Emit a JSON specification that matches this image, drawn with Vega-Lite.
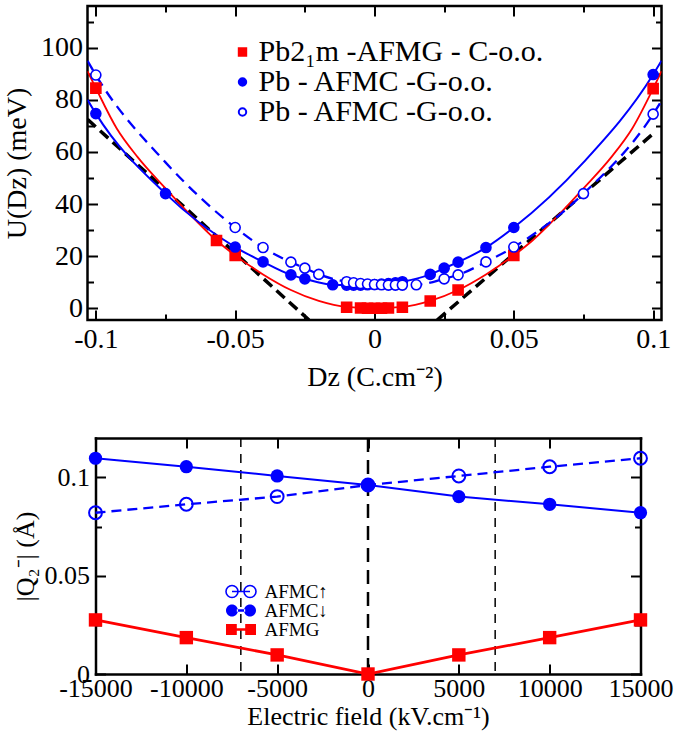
{
  "$schema": "https://vega.github.io/schema/vega-lite/v6.json",
  "padding": {"left": 1.5, "top": 3, "right": 0, "bottom": 2},
  "background": "white",
  "spacing": 43,
  "resolve": {
    "scale": {"shape": "independent", "fill": "independent", "stroke": "independent", "opacity": "independent"},
    "legend": {"shape": "independent", "fill": "independent", "stroke": "independent", "opacity": "independent"}
  },
  "datasets": {
    "topPts": [
      {"s": "AFMG", "D": -0.1, "U": 84.5}, {"s": "AFMG", "D": -0.0567, "U": 26}, {"s": "AFMG", "D": -0.05, "U": 20.3},
      {"s": "AFMG", "D": -0.01, "U": 0.4}, {"s": "AFMG", "D": -0.005, "U": 0.1}, {"s": "AFMG", "D": -0.0025, "U": 0},
      {"s": "AFMG", "D": 0, "U": 0}, {"s": "AFMG", "D": 0.0025, "U": 0}, {"s": "AFMG", "D": 0.005, "U": 0.1},
      {"s": "AFMG", "D": 0.01, "U": 0.4}, {"s": "AFMG", "D": 0.02, "U": 2.8}, {"s": "AFMG", "D": 0.03, "U": 7},
      {"s": "AFMG", "D": 0.05, "U": 20.3}, {"s": "AFMG", "D": 0.1, "U": 84.3},
      {"s": "AFMC-f", "D": -0.1, "U": 74.7}, {"s": "AFMC-f", "D": -0.075, "U": 44}, {"s": "AFMC-f", "D": -0.05, "U": 23.5},
      {"s": "AFMC-f", "D": -0.04, "U": 17.8}, {"s": "AFMC-f", "D": -0.03, "U": 12.8}, {"s": "AFMC-f", "D": -0.025, "U": 11.3},
      {"s": "AFMC-f", "D": -0.015, "U": 9.0}, {"s": "AFMC-f", "D": -0.01, "U": 8.9}, {"s": "AFMC-f", "D": -0.0075, "U": 8.9},
      {"s": "AFMC-f", "D": -0.005, "U": 8.9}, {"s": "AFMC-f", "D": -0.0025, "U": 9.0}, {"s": "AFMC-f", "D": 0, "U": 9.1},
      {"s": "AFMC-f", "D": 0.0025, "U": 9.3}, {"s": "AFMC-f", "D": 0.005, "U": 9.5}, {"s": "AFMC-f", "D": 0.0075, "U": 9.8},
      {"s": "AFMC-f", "D": 0.01, "U": 10.2}, {"s": "AFMC-f", "D": 0.02, "U": 13.0}, {"s": "AFMC-f", "D": 0.025, "U": 15.4},
      {"s": "AFMC-f", "D": 0.03, "U": 17.7}, {"s": "AFMC-f", "D": 0.04, "U": 23.3}, {"s": "AFMC-f", "D": 0.05, "U": 31},
      {"s": "AFMC-f", "D": 0.1, "U": 89.7},
      {"s": "AFMC-o", "D": -0.1, "U": 89.5}, {"s": "AFMC-o", "D": -0.05, "U": 31}, {"s": "AFMC-o", "D": -0.04, "U": 23.3},
      {"s": "AFMC-o", "D": -0.03, "U": 17.7}, {"s": "AFMC-o", "D": -0.025, "U": 15.4}, {"s": "AFMC-o", "D": -0.02, "U": 13.0},
      {"s": "AFMC-o", "D": -0.01, "U": 10.2}, {"s": "AFMC-o", "D": -0.0075, "U": 9.8}, {"s": "AFMC-o", "D": -0.005, "U": 9.5},
      {"s": "AFMC-o", "D": -0.0025, "U": 9.3}, {"s": "AFMC-o", "D": 0, "U": 9.1}, {"s": "AFMC-o", "D": 0.0025, "U": 9.0},
      {"s": "AFMC-o", "D": 0.005, "U": 8.9}, {"s": "AFMC-o", "D": 0.0075, "U": 8.9}, {"s": "AFMC-o", "D": 0.01, "U": 8.9},
      {"s": "AFMC-o", "D": 0.015, "U": 9.0}, {"s": "AFMC-o", "D": 0.025, "U": 11.3}, {"s": "AFMC-o", "D": 0.03, "U": 12.8},
      {"s": "AFMC-o", "D": 0.04, "U": 17.8}, {"s": "AFMC-o", "D": 0.05, "U": 23.5}, {"s": "AFMC-o", "D": 0.075, "U": 44},
      {"s": "AFMC-o", "D": 0.1, "U": 74.5}
    ],
    "topCurves": [
      {"c": "blackL", "D": -0.103, "U": 72.5}, {"c": "blackL", "D": -0.0235, "U": -4.5},
      {"c": "blackR", "D": 0.0225, "U": -4.5}, {"c": "blackR", "D": 0.1, "U": 67},
      {"c": "red", "D": -0.103, "U": 91}, {"c": "red", "D": -0.1, "U": 84.5}, {"c": "red", "D": -0.0925, "U": 69},
      {"c": "red", "D": -0.085, "U": 58}, {"c": "red", "D": -0.075, "U": 46}, {"c": "red", "D": -0.0667, "U": 36.5},
      {"c": "red", "D": -0.0567, "U": 26}, {"c": "red", "D": -0.05, "U": 20.3}, {"c": "red", "D": -0.04, "U": 13},
      {"c": "red", "D": -0.03, "U": 7}, {"c": "red", "D": -0.02, "U": 2.8}, {"c": "red", "D": -0.01, "U": 0.5},
      {"c": "red", "D": 0, "U": 0}, {"c": "red", "D": 0.01, "U": 0.5}, {"c": "red", "D": 0.02, "U": 2.8},
      {"c": "red", "D": 0.03, "U": 7}, {"c": "red", "D": 0.04, "U": 13}, {"c": "red", "D": 0.05, "U": 20.3},
      {"c": "red", "D": 0.0567, "U": 26}, {"c": "red", "D": 0.0667, "U": 36.5}, {"c": "red", "D": 0.075, "U": 46},
      {"c": "red", "D": 0.085, "U": 58}, {"c": "red", "D": 0.0925, "U": 69}, {"c": "red", "D": 0.1, "U": 84.3},
      {"c": "red", "D": 0.103, "U": 91},
      {"c": "filled", "D": -0.103, "U": 80}, {"c": "filled", "D": -0.1, "U": 74.7}, {"c": "filled", "D": -0.075, "U": 44},
      {"c": "filled", "D": -0.05, "U": 23.5}, {"c": "filled", "D": -0.04, "U": 17.8}, {"c": "filled", "D": -0.03, "U": 12.8},
      {"c": "filled", "D": -0.025, "U": 11.3}, {"c": "filled", "D": -0.015, "U": 9.0}, {"c": "filled", "D": -0.01, "U": 8.9},
      {"c": "filled", "D": -0.005, "U": 8.9}, {"c": "filled", "D": 0, "U": 9.1}, {"c": "filled", "D": 0.005, "U": 9.5},
      {"c": "filled", "D": 0.01, "U": 10.2}, {"c": "filled", "D": 0.02, "U": 13.0}, {"c": "filled", "D": 0.025, "U": 15.4},
      {"c": "filled", "D": 0.03, "U": 17.7}, {"c": "filled", "D": 0.04, "U": 23.3}, {"c": "filled", "D": 0.05, "U": 31},
      {"c": "filled", "D": 0.075, "U": 56}, {"c": "filled", "D": 0.1, "U": 89.7}, {"c": "filled", "D": 0.103, "U": 95},
      {"c": "open", "D": -0.103, "U": 95}, {"c": "open", "D": -0.1, "U": 89.5}, {"c": "open", "D": -0.075, "U": 56},
      {"c": "open", "D": -0.05, "U": 31}, {"c": "open", "D": -0.04, "U": 23.3}, {"c": "open", "D": -0.03, "U": 17.7},
      {"c": "open", "D": -0.025, "U": 15.4}, {"c": "open", "D": -0.02, "U": 13.0}, {"c": "open", "D": -0.01, "U": 10.2},
      {"c": "open", "D": -0.005, "U": 9.5}, {"c": "open", "D": 0, "U": 9.1}, {"c": "open", "D": 0.005, "U": 8.9},
      {"c": "open", "D": 0.01, "U": 8.9}, {"c": "open", "D": 0.015, "U": 9.0}, {"c": "open", "D": 0.025, "U": 11.3},
      {"c": "open", "D": 0.03, "U": 12.8}, {"c": "open", "D": 0.04, "U": 17.8}, {"c": "open", "D": 0.05, "U": 23.5},
      {"c": "open", "D": 0.075, "U": 44}, {"c": "open", "D": 0.1, "U": 74.5}, {"c": "open", "D": 0.103, "U": 79.6}
    ],
    "botPts": [
      {"s": "AFMC↓", "E": -15000, "Q": 0.1097}, {"s": "AFMC↓", "E": -10000, "Q": 0.1054}, {"s": "AFMC↓", "E": -5000, "Q": 0.1007},
      {"s": "AFMC↓", "E": 0, "Q": 0.0961}, {"s": "AFMC↓", "E": 5000, "Q": 0.0902}, {"s": "AFMC↓", "E": 10000, "Q": 0.0863},
      {"s": "AFMC↓", "E": 15000, "Q": 0.082},
      {"s": "AFMC↑", "E": -15000, "Q": 0.082}, {"s": "AFMC↑", "E": -10000, "Q": 0.0863}, {"s": "AFMC↑", "E": -5000, "Q": 0.0902},
      {"s": "AFMC↑", "E": 0, "Q": 0.0961}, {"s": "AFMC↑", "E": 5000, "Q": 0.1007}, {"s": "AFMC↑", "E": 10000, "Q": 0.1054},
      {"s": "AFMC↑", "E": 15000, "Q": 0.1097},
      {"s": "AFMG", "E": -15000, "Q": 0.0275}, {"s": "AFMG", "E": -10000, "Q": 0.0185}, {"s": "AFMG", "E": -5000, "Q": 0.0097},
      {"s": "AFMG", "E": 0, "Q": 0.0}, {"s": "AFMG", "E": 5000, "Q": 0.0097}, {"s": "AFMG", "E": 10000, "Q": 0.0185},
      {"s": "AFMG", "E": 15000, "Q": 0.0275}
    ],
    "botRules": [
      {"E": -7000, "kind": "side"}, {"E": 0, "kind": "center"}, {"E": 7000, "kind": "side"}
    ]
  },
  "vconcat": [
    {
      "width": 574,
      "height": 314,
      "resolve": {"axis": {"x": "independent", "y": "independent"}},
      "layer": [
        {
          "data": {"name": "topCurves"},
          "transform": [{"filter": "datum.c == 'blackL' || datum.c == 'blackR'"}],
          "mark": {"type": "line", "clip": true, "color": "black", "strokeWidth": 3.5, "strokeDash": [11, 6]},
          "encoding": {
            "detail": {"field": "c"},
            "x": {"field": "D", "type": "quantitative",
              "scale": {"domain": [-0.103, 0.103], "nice": false, "zero": false},
              "axis": {"orient": "bottom", "values": [-0.1, -0.075, -0.05, -0.025, 0, 0.025, 0.05, 0.075, 0.1],
                "labelExpr": "abs(datum.value*20-round(datum.value*20))<1e-6 ? toString(datum.value) : ''",
                "tickSize": {"condition": {"test": "abs(datum.value*20-round(datum.value*20))<1e-6", "value": -10}, "value": -6},
                "labelFontSize": 28, "labelPadding": 15, "title": "Dz (C.cm⁻²)", "titleFontSize": 28, "titlePadding": 6}},
            "y": {"field": "U", "type": "quantitative",
              "scale": {"domain": [-4.5, 116], "nice": false, "zero": false},
              "axis": {"orient": "left", "values": [0, 10, 20, 30, 40, 50, 60, 70, 80, 90, 100, 110],
                "labelExpr": "datum.value % 20 == 0 ? toString(datum.value) : ''",
                "tickSize": {"condition": {"test": "datum.value % 20 == 0", "value": -10}, "value": -6},
                "labelFontSize": 28, "labelPadding": 15, "title": "U(Dz) (meV)", "titleFontSize": 28, "titlePadding": 9}}
          }
        },
        {
          "data": {"name": "topCurves"},
          "transform": [{"filter": "datum.c == 'red'"}],
          "mark": {"type": "line", "clip": true, "color": "#ff0000", "strokeWidth": 1.8, "interpolate": "monotone"},
          "encoding": {
            "x": {"field": "D", "type": "quantitative", "axis": null},
            "y": {"field": "U", "type": "quantitative", "axis": null}
          }
        },
        {
          "data": {"name": "topCurves"},
          "transform": [{"filter": "datum.c == 'filled'"}],
          "mark": {"type": "line", "clip": true, "color": "#0000ff", "strokeWidth": 2, "interpolate": "monotone"},
          "encoding": {
            "x": {"field": "D", "type": "quantitative", "axis": null},
            "y": {"field": "U", "type": "quantitative", "axis": null}
          }
        },
        {
          "data": {"name": "topCurves"},
          "transform": [{"filter": "datum.c == 'open'"}],
          "mark": {"type": "line", "clip": true, "color": "#0000ff", "strokeWidth": 2.3, "strokeDash": [11, 7], "interpolate": "monotone"},
          "encoding": {
            "x": {"field": "D", "type": "quantitative", "axis": null},
            "y": {"field": "U", "type": "quantitative", "axis": null}
          }
        },
        {
          "data": {"name": "topPts"},
          "mark": {"type": "point", "filled": true, "opacity": 1, "size": 100, "strokeWidth": 1.6},
          "encoding": {
            "x": {"field": "D", "type": "quantitative",
              "axis": {"orient": "top", "values": [-0.1, -0.075, -0.05, -0.025, 0, 0.025, 0.05, 0.075, 0.1], "labels": false, "title": null,
                "tickSize": {"condition": {"test": "abs(datum.value*20-round(datum.value*20))<1e-6", "value": -10}, "value": -6}}},
            "y": {"field": "U", "type": "quantitative",
              "axis": {"orient": "right", "values": [0, 10, 20, 30, 40, 50, 60, 70, 80, 90, 100, 110], "labels": false, "title": null,
                "tickSize": {"condition": {"test": "datum.value % 20 == 0", "value": -10}, "value": -6}}},
            "shape": {"field": "s", "type": "nominal",
              "scale": {"domain": ["AFMG", "AFMC-f", "AFMC-o"], "range": ["square", "circle", "circle"]},
              "legend": {"title": null, "orient": "none", "legendX": 140, "legendY": 31, "labelFontSize": 30, "labelLimit": 500,
                "labelExpr": "datum.value == 'AFMG' ? 'Pb2₁m -AFMG - C-o.o.' : 'Pb - AFMC -G-o.o.'",
                "symbolSize": 55, "symbolStrokeWidth": 2, "labelOffset": 1, "rowPadding": -2, "symbolOffset": 0, "padding": 0}},
            "fill": {"field": "s", "type": "nominal",
              "scale": {"domain": ["AFMG", "AFMC-f", "AFMC-o"], "range": ["#ff0000", "#0000ff", "#ffffff"]},
              "legend": {"title": null, "orient": "none", "legendX": 140, "legendY": 31, "labelFontSize": 30, "labelLimit": 500,
                "labelExpr": "datum.value == 'AFMG' ? 'Pb2₁m -AFMG - C-o.o.' : 'Pb - AFMC -G-o.o.'",
                "symbolSize": 55, "symbolStrokeWidth": 2, "labelOffset": 1, "rowPadding": -2, "symbolOffset": 0, "padding": 0}},
            "stroke": {"field": "s", "type": "nominal",
              "scale": {"domain": ["AFMG", "AFMC-f", "AFMC-o"], "range": ["#ff0000", "#0000ff", "#0000ff"]},
              "legend": {"title": null, "orient": "none", "legendX": 140, "legendY": 31, "labelFontSize": 30, "labelLimit": 500,
                "labelExpr": "datum.value == 'AFMG' ? 'Pb2₁m -AFMG - C-o.o.' : 'Pb - AFMC -G-o.o.'",
                "symbolSize": 55, "symbolStrokeWidth": 2, "labelOffset": 1, "rowPadding": -2, "symbolOffset": 0, "padding": 0}}
          }
        }
      ]
    },
    {
      "width": 553,
      "height": 236,
      "view": {"stroke": null},
      "resolve": {
        "axis": {"x": "independent", "y": "independent"},
        "scale": {"opacity": "independent"},
        "legend": {"opacity": "independent"}
      },
      "layer": [
        {
          "data": {"name": "botRules"},
          "transform": [{"filter": "datum.kind == 'side'"}],
          "mark": {"type": "rule", "color": "black", "strokeWidth": 1.5, "strokeDash": [9, 7]},
          "encoding": {
            "x": {"field": "E", "type": "quantitative", "axis": null,
              "scale": {"domain": [-15000, 15000], "nice": false, "zero": false, "range": [8, 553]}}
          }
        },
        {
          "data": {"name": "botRules"},
          "transform": [{"filter": "datum.kind == 'center'"}],
          "mark": {"type": "rule", "color": "black", "strokeWidth": 2.5, "strokeDash": [14, 8]},
          "encoding": {
            "x": {"field": "E", "type": "quantitative", "axis": null}
          }
        },
        {
          "data": {"name": "botPts"},
          "transform": [{"filter": "datum.s == 'AFMG'"}],
          "mark": {"type": "line", "color": "#ff0000", "strokeWidth": 2.8},
          "encoding": {
            "x": {"field": "E", "type": "quantitative",
              "scale": {"domain": [-15000, 15000], "nice": false, "zero": false, "range": [8, 553]},
              "axis": {"orient": "bottom", "values": [-15000, -10000, -5000, 0, 5000, 10000, 15000],
                "domain": true, "domainColor": "black", "domainWidth": 2.5, "domainCap": "square",
                "labelExpr": "toString(datum.value)", "tickSize": -10,
                "labelFontSize": 26, "labelPadding": 11, "title": "Electric field (kV.cm⁻¹)", "titleFontSize": 26, "titlePadding": 2}},
            "y": {"field": "Q", "type": "quantitative",
              "scale": {"domain": [0, 0.12], "nice": false, "zero": false},
              "axis": {"orient": "left", "offset": -8, "values": [0, 0.025, 0.05, 0.075, 0.1],
                "domain": true, "domainColor": "black", "domainWidth": 2.5, "domainCap": "square",
                "labelExpr": "abs(datum.value*20-round(datum.value*20))<1e-6 ? toString(datum.value) : ''",
                "tickSize": {"condition": {"test": "abs(datum.value*20-round(datum.value*20))<1e-6", "value": -10}, "value": -6},
                "labelFontSize": 26, "labelPadding": 16, "title": "|Q₂⁻| (Å)", "titleFontSize": 26, "titlePadding": 6}}
          }
        },
        {
          "data": {"name": "botPts"},
          "transform": [{"filter": "datum.s == 'AFMC↓'"}],
          "mark": {"type": "line", "color": "#0000ff", "strokeWidth": 2},
          "encoding": {
            "x": {"field": "E", "type": "quantitative", "axis": null},
            "y": {"field": "Q", "type": "quantitative", "axis": null}
          }
        },
        {
          "data": {"name": "botPts"},
          "transform": [{"filter": "datum.s == 'AFMC↑'"}],
          "mark": {"type": "line", "color": "#0000ff", "strokeWidth": 2.3, "strokeDash": [10, 6]},
          "encoding": {
            "x": {"field": "E", "type": "quantitative", "axis": null},
            "y": {"field": "Q", "type": "quantitative", "axis": null}
          }
        },
        {
          "data": {"name": "botPts"},
          "transform": [{"filter": "datum.s == 'AFMC↑'"}],
          "mark": {"type": "point", "shape": "circle", "filled": false, "color": "#0000ff", "size": 165, "strokeWidth": 2},
          "encoding": {
            "x": {"field": "E", "type": "quantitative",
              "axis": {"orient": "top", "values": [-15000, -10000, -5000, 0, 5000, 10000, 15000], "labels": false, "title": null, "tickSize": -10,
                "domain": true, "domainColor": "black", "domainWidth": 2.5, "domainCap": "square"}},
            "y": {"field": "Q", "type": "quantitative",
              "axis": {"orient": "right", "values": [0, 0.025, 0.05, 0.075, 0.1], "labels": false, "title": null,
                "domain": true, "domainColor": "black", "domainWidth": 2.5, "domainCap": "square",
                "tickSize": {"condition": {"test": "abs(datum.value*20-round(datum.value*20))<1e-6", "value": -10}, "value": -6}}},
            "opacity": {"field": "s", "type": "nominal",
              "scale": {"domain": ["AFMC↑"], "range": [1, 1]},
              "legend": {"title": null, "orient": "none", "legendX": 144, "legendY": 144, "labelFontSize": 19, "labelLimit": 300,
                "symbolType": "M -2.5 0 A 1 1 0 1 0 -0.5 0 A 1 1 0 1 0 -2.5 0 Z M 0.5 0 A 1 1 0 1 0 2.5 0 A 1 1 0 1 0 0.5 0 Z M -1.5 0 H 1.5",
                "symbolSize": 144, "symbolStrokeWidth": 1.6, "symbolFillColor": "transparent", "symbolStrokeColor": "#0000ff",
                "labelOffset": 14, "symbolOffset": 0, "padding": 0}}
          }
        },
        {
          "data": {"name": "botPts"},
          "transform": [{"filter": "datum.s == 'AFMC↓'"}],
          "mark": {"type": "point", "shape": "circle", "filled": true, "color": "#0000ff", "size": 175, "strokeWidth": 0},
          "encoding": {
            "x": {"field": "E", "type": "quantitative", "axis": null},
            "y": {"field": "Q", "type": "quantitative", "axis": null},
            "opacity": {"field": "s", "type": "nominal",
              "scale": {"domain": ["AFMC↓"], "range": [1, 1]},
              "legend": {"title": null, "orient": "none", "legendX": 144, "legendY": 163, "labelFontSize": 19, "labelLimit": 300,
                "symbolType": "M -2.5 0 A 1 1 0 1 0 -0.5 0 A 1 1 0 1 0 -2.5 0 Z M 0.5 0 A 1 1 0 1 0 2.5 0 A 1 1 0 1 0 0.5 0 Z M -0.7 -0.2 H 0.7 V 0.2 H -0.7 Z",
                "symbolSize": 144, "symbolStrokeWidth": 0, "symbolFillColor": "#0000ff", "symbolStrokeColor": "#0000ff",
                "labelOffset": 14, "symbolOffset": 0, "padding": 0}}
          }
        },
        {
          "data": {"name": "botPts"},
          "transform": [{"filter": "datum.s == 'AFMG'"}],
          "mark": {"type": "point", "shape": "square", "filled": true, "color": "#ff0000", "size": 180, "strokeWidth": 0},
          "encoding": {
            "x": {"field": "E", "type": "quantitative", "axis": null},
            "y": {"field": "Q", "type": "quantitative", "axis": null},
            "opacity": {"field": "s", "type": "nominal",
              "scale": {"domain": ["AFMG"], "range": [1, 1]},
              "legend": {"title": null, "orient": "none", "legendX": 144, "legendY": 182, "labelFontSize": 19, "labelLimit": 300,
                "symbolType": "M -2.5 -0.9 H -0.7 V 0.9 H -2.5 Z M 0.7 -0.9 H 2.5 V 0.9 H 0.7 Z M -0.8 -0.22 H 0.8 V 0.22 H -0.8 Z",
                "symbolSize": 144, "symbolStrokeWidth": 0, "symbolFillColor": "#ff0000", "symbolStrokeColor": "#ff0000",
                "labelOffset": 14, "symbolOffset": 0, "padding": 0}}
          }
        }
      ]
    }
  ],
  "config": {
    "view": {"stroke": "black", "strokeWidth": 2.5},
    "font": "Liberation Serif",
    "axis": {"domain": false, "grid": false, "labelFont": "Liberation Serif",
      "titleFont": "Liberation Serif",
      "titleFontWeight": "normal", "labelColor": "black", "titleColor": "black", "tickColor": "black", "tickWidth": 2,
      "labelOverlap": false, "labelFlush": false},
    "legend": {"labelFont": "Liberation Serif", "labelColor": "black"}
  }
}
